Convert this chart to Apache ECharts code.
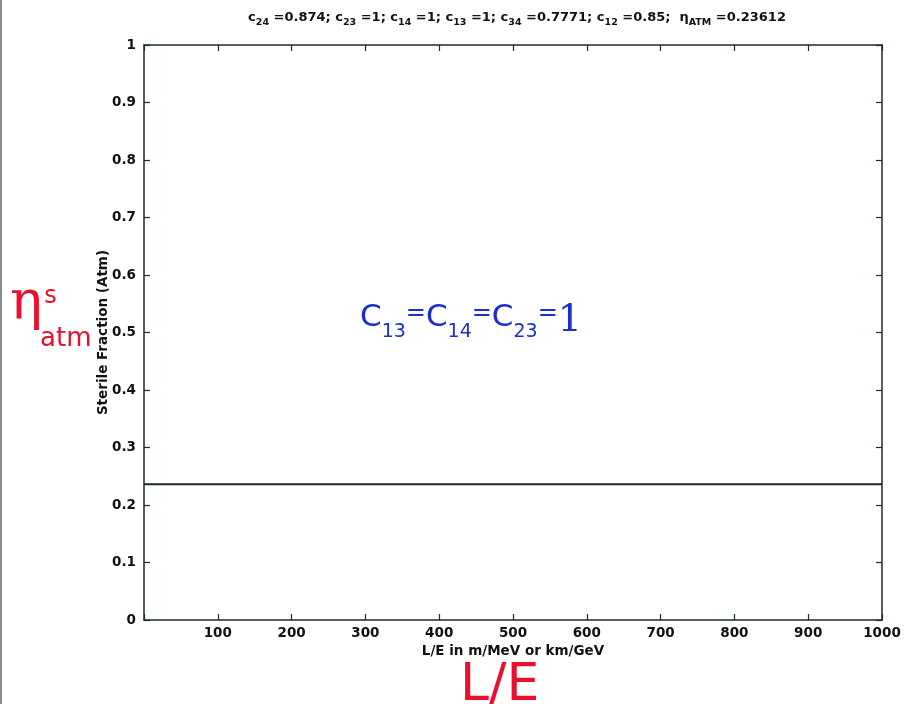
<!DOCTYPE html>
<html>
<head>
<meta charset="utf-8">
<script src="https://cdn.jsdelivr.net/npm/echarts@6/dist/echarts.min.js"></script>
<style>html,body{margin:0;padding:0;background:#fff;}#c{width:915px;height:704px;}</style>
</head>
<body>
<div id="c"></div>
<script>
// Data
const xValues = [0, 1000];
const sterileFraction = [0.23612, 0.23612];
const xTicks = [0, 100, 200, 300, 400, 500, 600, 700, 800, 900, 1000];
const yTicks = [0, 0.1, 0.2, 0.3, 0.4, 0.5, 0.6, 0.7, 0.8, 0.9, 1];
const params = [['c', '24', '0.874'], ['c', '23', '1'], ['c', '14', '1'], ['c', '13', '1'], ['c', '34', '0.7771'], ['c', '12', '0.85']];
const etaLabel = ['η', 'ATM', '0.23612'];

const chart = echarts.init(document.getElementById('c'));
const axisColor = '#1d2b2b';
const font = 'DejaVu Sans, Arial, sans-serif';
const blue = '#1c2ecc';
const red = '#e8102c';

let titleText = params.map(p => `{n|${p[0]}}{sub|${p[1]}}{n| =${p[2]};}`).join('{n| }');
titleText += `{n|  ${etaLabel[0]}}{sub|${etaLabel[1]}}{n| =${etaLabel[2]}}`;

const tickLabelStyle = {color: '#111', fontFamily: font, fontSize: 13.5, fontWeight: 'bold'};

chart.setOption({
  animation: false,
  backgroundColor: '#fff',
  title: {
    text: titleText,
    left: 512, top: 6, textAlign: 'center',
    textStyle: {
      rich: {
        n: {fontFamily: font, fontSize: 13, fontWeight: 'bold', color: '#111', verticalAlign: 'top', lineHeight: 17},
        sub: {fontFamily: font, fontSize: 9.5, fontWeight: 'bold', color: '#111', verticalAlign: 'bottom', lineHeight: 17, padding: [10, 0, 0, 0]}
      }
    }
  },
  grid: {left: 144, right: 33, top: 45, bottom: 84},
  xAxis: [{
    type: 'value', min: 0, max: 1000, interval: 100,
    name: 'L/E in m/MeV or km/GeV', nameLocation: 'middle', nameGap: 24, nameMoveOverlap: false,
    nameTextStyle: {color: '#111', fontFamily: font, fontSize: 13.5, fontWeight: 'bold'},
    axisLine: {show: true, lineStyle: {color: axisColor, width: 1.5}},
    axisTick: {show: true, inside: true, length: 6, lineStyle: {color: axisColor, width: 1.2}},
    axisLabel: Object.assign({margin: 6, formatter: v => v === 0 ? '' : String(v)}, tickLabelStyle),
    splitLine: {show: false}
  }, {
    type: 'value', min: 0, max: 1000, interval: 100, position: 'top',
    axisLine: {show: true, onZero: false, lineStyle: {color: axisColor, width: 1.5}},
    axisTick: {show: true, inside: true, length: 6, lineStyle: {color: axisColor, width: 1.2}},
    axisLabel: {show: false}, splitLine: {show: false}
  }],
  yAxis: [{
    type: 'value', min: 0, max: 1, interval: 0.1,
    name: 'Sterile Fraction (Atm)', nameLocation: 'middle', nameGap: 34, nameRotate: 90, nameMoveOverlap: false,
    nameTextStyle: {color: '#111', fontFamily: font, fontSize: 13.5, fontWeight: 'bold'},
    axisLine: {show: true, lineStyle: {color: axisColor, width: 1.5}},
    axisTick: {show: true, inside: true, length: 6, lineStyle: {color: axisColor, width: 1.2}},
    axisLabel: Object.assign({margin: 8, formatter: v => String(Math.round(v * 10) / 10)}, tickLabelStyle),
    splitLine: {show: false}
  }, {
    type: 'value', min: 0, max: 1, interval: 0.1, position: 'right',
    axisLine: {show: true, onZero: false, lineStyle: {color: axisColor, width: 1.5}},
    axisTick: {show: true, inside: true, length: 6, lineStyle: {color: axisColor, width: 1.2}},
    axisLabel: {show: false}, splitLine: {show: false}
  }],
  series: [{
    type: 'line',
    data: xValues.map((x, i) => [x, sterileFraction[i]]),
    symbol: 'none',
    lineStyle: {color: '#1a2626', width: 2}
  }],
  graphic: [
    {type: 'rect', left: 0, top: 0, shape: {width: 2, height: 704}, style: {fill: '#8a8a8a'}},
    {
      type: 'text', left: 360, top: 302,
      style: {
        text: '{c|C}{s|13}{e|=}{c|C}{s|14}{e|=}{c|C}{s|23}{e|=}{one|1}',
        rich: {
          c: {fontFamily: 'DejaVu Sans', fontSize: 31, fill: blue, verticalAlign: 'top', lineHeight: 40},
          s: {fontFamily: 'DejaVu Sans', fontSize: 19, fill: blue, verticalAlign: 'bottom', lineHeight: 40, padding: [16, 0, 0, 0]},
          e: {fontFamily: 'DejaVu Sans', fontSize: 24, fill: blue, verticalAlign: 'top', lineHeight: 40},
          one: {fontFamily: 'DejaVu Serif', fontSize: 38, fill: blue, verticalAlign: 'top', lineHeight: 40}
        }
      }
    },
    {
      type: 'text', left: 10, top: 278,
      style: {
        text: '{eta|η}{sup|s}\n{pad|}{sub|atm}',
        rich: {
          eta: {fontFamily: 'DejaVu Serif', fontSize: 54, fill: red, lineHeight: 40},
          sup: {fontFamily: 'DejaVu Sans', fontSize: 24, fill: red, verticalAlign: 'top', lineHeight: 40, padding: [0, 0, 18, 2]},
          pad: {width: 30, lineHeight: 28},
          sub: {fontFamily: 'DejaVu Sans', fontSize: 26, fill: red, lineHeight: 28}
        }
      }
    },
    {
      type: 'text', left: 460, top: 660,
      style: {text: 'L/E', fontFamily: 'DejaVu Sans', fontSize: 52, fontWeight: 'normal', fill: red}
    }
  ]
});
</script>
</body>
</html>
